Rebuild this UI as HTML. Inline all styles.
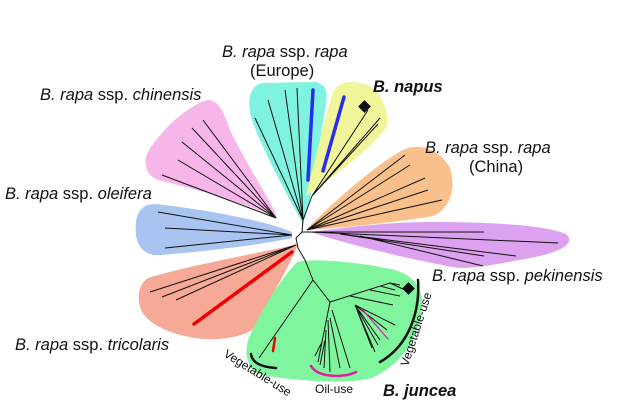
<!DOCTYPE html>
<html><head><style>
html,body{margin:0;padding:0;background:#fff;}
svg{display:block;}
text{font-family:"Liberation Sans",sans-serif;fill:#111;}
</style></head><body>
<svg width="624" height="402" viewBox="0 0 624 402" xmlns="http://www.w3.org/2000/svg">
<path d="M303,224 C290,200 262,150 252,120 C246,100 250,86 262,83 L315,82 C328,84 328,96 325,110 L310,200 Z" fill="#7ff3e0"/>
<path d="M306,196 C312,170 325,120 332,95 C336,82 348,80 365,84 C385,92 390,118 386,128 C370,150 335,175 306,196 Z" fill="#f0f59a"/>
<path d="M306,230 C330,205 375,165 403,150 C420,142 440,150 450,168 C456,185 452,208 433,216 C400,222 340,228 306,230 Z" fill="#f9c08c"/>
<path d="M310,232 C340,228 390,222 430,222 C490,222 545,225 566,234 C575,242 565,250 540,256 C510,262 480,268 460,268 C420,262 350,245 310,232 Z" fill="#dca2ef"/>
<path d="M278,218 C250,205 200,190 158,180 C144,174 143,160 149,150 C163,128 188,106 207,100 C218,99 224,112 230,130 C247,165 270,200 278,218 Z" fill="#f7b6ea"/>
<path d="M292,232 C270,222 210,210 155,204 C140,204 134,215 136,235 C138,250 148,256 160,255 C200,252 260,245 292,238 Z" fill="#a9c4f1"/>
<path d="M298,244 C265,252 190,265 148,278 C138,284 136,300 142,312 C150,325 170,334 195,338 C215,341 240,338 252,330 C270,300 290,265 298,244 Z" fill="#f6a996"/>
<path d="M297,262 C310,258 360,262 395,270 C415,276 424,290 422,310 C418,340 400,365 372,378 C345,385 290,380 262,375 C248,372 244,355 248,340 C258,315 280,280 297,262 Z" fill="#7ff59e"/>
<g stroke="#111" stroke-width="1" fill="none">
<path d="M303,220 L302,232 L296,238 L298,248 L305,260 L313,280 L330,302"/>
<path d="M302,232 L310,232"/>
<path d="M303,220 L255,118 M303,220 L268,100 M303,220 L285,90 M303,220 L297,88"/>
<path d="M303,220 L312,196"/>
<path d="M312,196 L368,110 M312,196 L380,118 M312,196 L378,124"/>
<path d="M307,230 L405,155 M307,230 L410,165 M307,230 L425,178 M307,230 L428,190 M307,230 L442,200"/>
<path d="M310,232 L484,232 M310,232 L558,243 M340,234 L516,256 M340,234 L484,256 M360,236 L483,266"/>
<path d="M276,218 L203,120 M276,218 L192,128 M276,218 L182,142 M276,218 L178,160 M276,218 L162,175"/>
<path d="M292,235 L158,212 M292,235 L165,228 M292,235 L165,248"/>
<path d="M296,245 L150,292 M296,245 L162,297 M296,245 L176,300"/>
<path d="M313,280 L259,358"/>
<path d="M330,302 L390,283 L400,285 M390,283 L405,290 M380,286 L395,290 M370,290 L400,296 M350,296 L393,305"/>
<path d="M330,302 L322,342 L315,356 M322,342 L318,362 M325,340 L320,365 M326,330 L324,368 M328,320 L330,372 M330,318 L340,368 M332,310 L350,368"/>
<path d="M355,305 L387,330 M355,305 L380,340 M355,305 L378,345 M355,305 L372,348 M355,305 L375,352 M355,305 L395,325"/>
</g>
<g stroke-linecap="round" fill="none">
<path d="M313,90 L308,180" stroke="#2a2af0" stroke-width="3.5"/>
<path d="M344,97 L323,171" stroke="#2a2af0" stroke-width="3.5"/>
<path d="M292,252 L194,324" stroke="#f00000" stroke-width="3.5"/>
<path d="M275,338 L273,351" stroke="#f00000" stroke-width="2.5"/>
<path d="M362,309 L388,339" stroke="#e020a0" stroke-width="1.2"/>
<path d="M251,354 C252,362 260,367 276,368" stroke="#111" stroke-width="2.5"/>
<path d="M311,366 C318,378 345,378 356,372" stroke="#e020a0" stroke-width="2.5"/>
<path d="M418,280 C420,310 410,345 380,362" stroke="#111" stroke-width="2.5"/>
</g>
<rect x="360" y="102" width="9" height="9" fill="#111" transform="rotate(45 364.5 106.5)"/>
<rect x="404" y="284" width="9" height="9" fill="#111" transform="rotate(45 408.5 288.5)"/>
<g font-size="16.5">
<text x="222" y="57"><tspan font-style="italic">B. rapa</tspan> ssp. <tspan font-style="italic">rapa</tspan></text>
<text x="250" y="76">(Europe)</text>
<text x="373" y="92" font-weight="bold" font-style="italic">B. napus</text>
<text x="40" y="100"><tspan font-style="italic">B. rapa</tspan> ssp. <tspan font-style="italic">chinensis</tspan></text>
<text x="425" y="153"><tspan font-style="italic">B. rapa</tspan> ssp. <tspan font-style="italic">rapa</tspan></text>
<text x="469" y="172">(China)</text>
<text x="5" y="199"><tspan font-style="italic">B. rapa</tspan> ssp. <tspan font-style="italic">oleifera</tspan></text>
<text x="432" y="281"><tspan font-style="italic">B. rapa</tspan> ssp. <tspan font-style="italic">pekinensis</tspan></text>
<text x="15" y="350"><tspan font-style="italic">B. rapa</tspan> ssp. <tspan font-style="italic">tricolaris</tspan></text>
<text x="383" y="396" font-weight="bold" font-style="italic">B. juncea</text>
</g>
<g font-size="12">
<text x="315" y="393">Oil-use</text>
<text x="0" y="0" transform="translate(223,356) rotate(32)">Vegetable-use</text>
<text x="0" y="0" transform="translate(408,367) rotate(-72)">Vegetable-use</text>
</g>
</svg>
</body></html>
